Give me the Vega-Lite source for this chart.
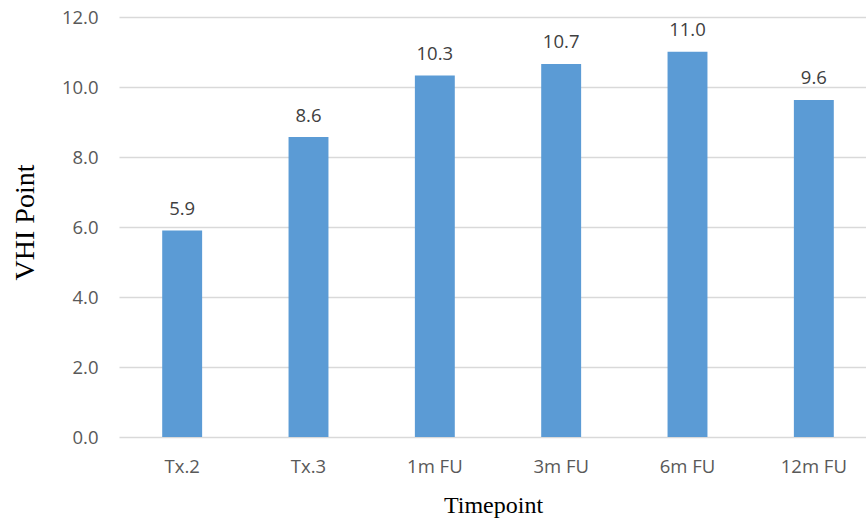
{
  "$schema": "https://vega.github.io/schema/vega-lite/v6.json",
  "width": 758,
  "height": 420,
  "autosize": "none",
  "padding": {"left": 119, "top": 17, "right": 0, "bottom": 85},
  "background": "white",
  "config": {"view": {"stroke": null}},
  "data": {
    "values": [
      {"Timepoint": "Tx.2", "VHI": 5.9},
      {"Timepoint": "Tx.3", "VHI": 8.57},
      {"Timepoint": "1m FU", "VHI": 10.33},
      {"Timepoint": "3m FU", "VHI": 10.66},
      {"Timepoint": "6m FU", "VHI": 11.01},
      {"Timepoint": "12m FU", "VHI": 9.63}
    ]
  },
  "encoding": {
    "x": {
      "field": "Timepoint",
      "type": "nominal",
      "sort": null,
      "scale": {"paddingInner": 0.684, "paddingOuter": 0.342},
      "axis": {
        "title": "Timepoint",
        "titleFont": "Liberation Serif",
        "titleFontSize": 24,
        "titleFontWeight": "normal",
        "titleColor": "#000000",
        "titleBaseline": "alphabetic",
        "titleY": 75.5,
        "titleX": 374,
        "labelAngle": 0,
        "labelFont": "Open Sans",
        "labelFontSize": 18.5,
        "labelColor": "#595959",
        "labelBaseline": "alphabetic",
        "labelPadding": 35.5,
        "ticks": false,
        "tickSize": 0,
        "domain": false,
        "grid": false
      }
    },
    "y": {
      "field": "VHI",
      "type": "quantitative",
      "scale": {"domain": [0, 12], "nice": false},
      "axis": {
        "title": "VHI Point",
        "titleFont": "Liberation Serif",
        "titleFontSize": 28,
        "titleFontWeight": "normal",
        "titleColor": "#000000",
        "titleAngle": -90,
        "titleAlign": "center",
        "titleBaseline": "alphabetic",
        "titleX": -86,
        "titleY": 205,
        "values": [0, 2, 4, 6, 8, 10, 12],
        "format": ".1f",
        "labelFont": "Open Sans",
        "labelFontSize": 18.5,
        "labelColor": "#595959",
        "labelPadding": 21,
        "ticks": false,
        "tickSize": 0,
        "domain": false,
        "grid": true,
        "gridColor": "#D9D9D9",
        "gridWidth": 1.3
      }
    }
  },
  "layer": [
    {"mark": {"type": "bar", "color": "#5B9BD5"}},
    {
      "mark": {
        "type": "text",
        "font": "Open Sans",
        "fontSize": 18.5,
        "color": "#404040",
        "baseline": "alphabetic",
        "dy": -15.5
      },
      "encoding": {"text": {"field": "VHI", "type": "quantitative", "format": ".1f"}}
    }
  ]
}
